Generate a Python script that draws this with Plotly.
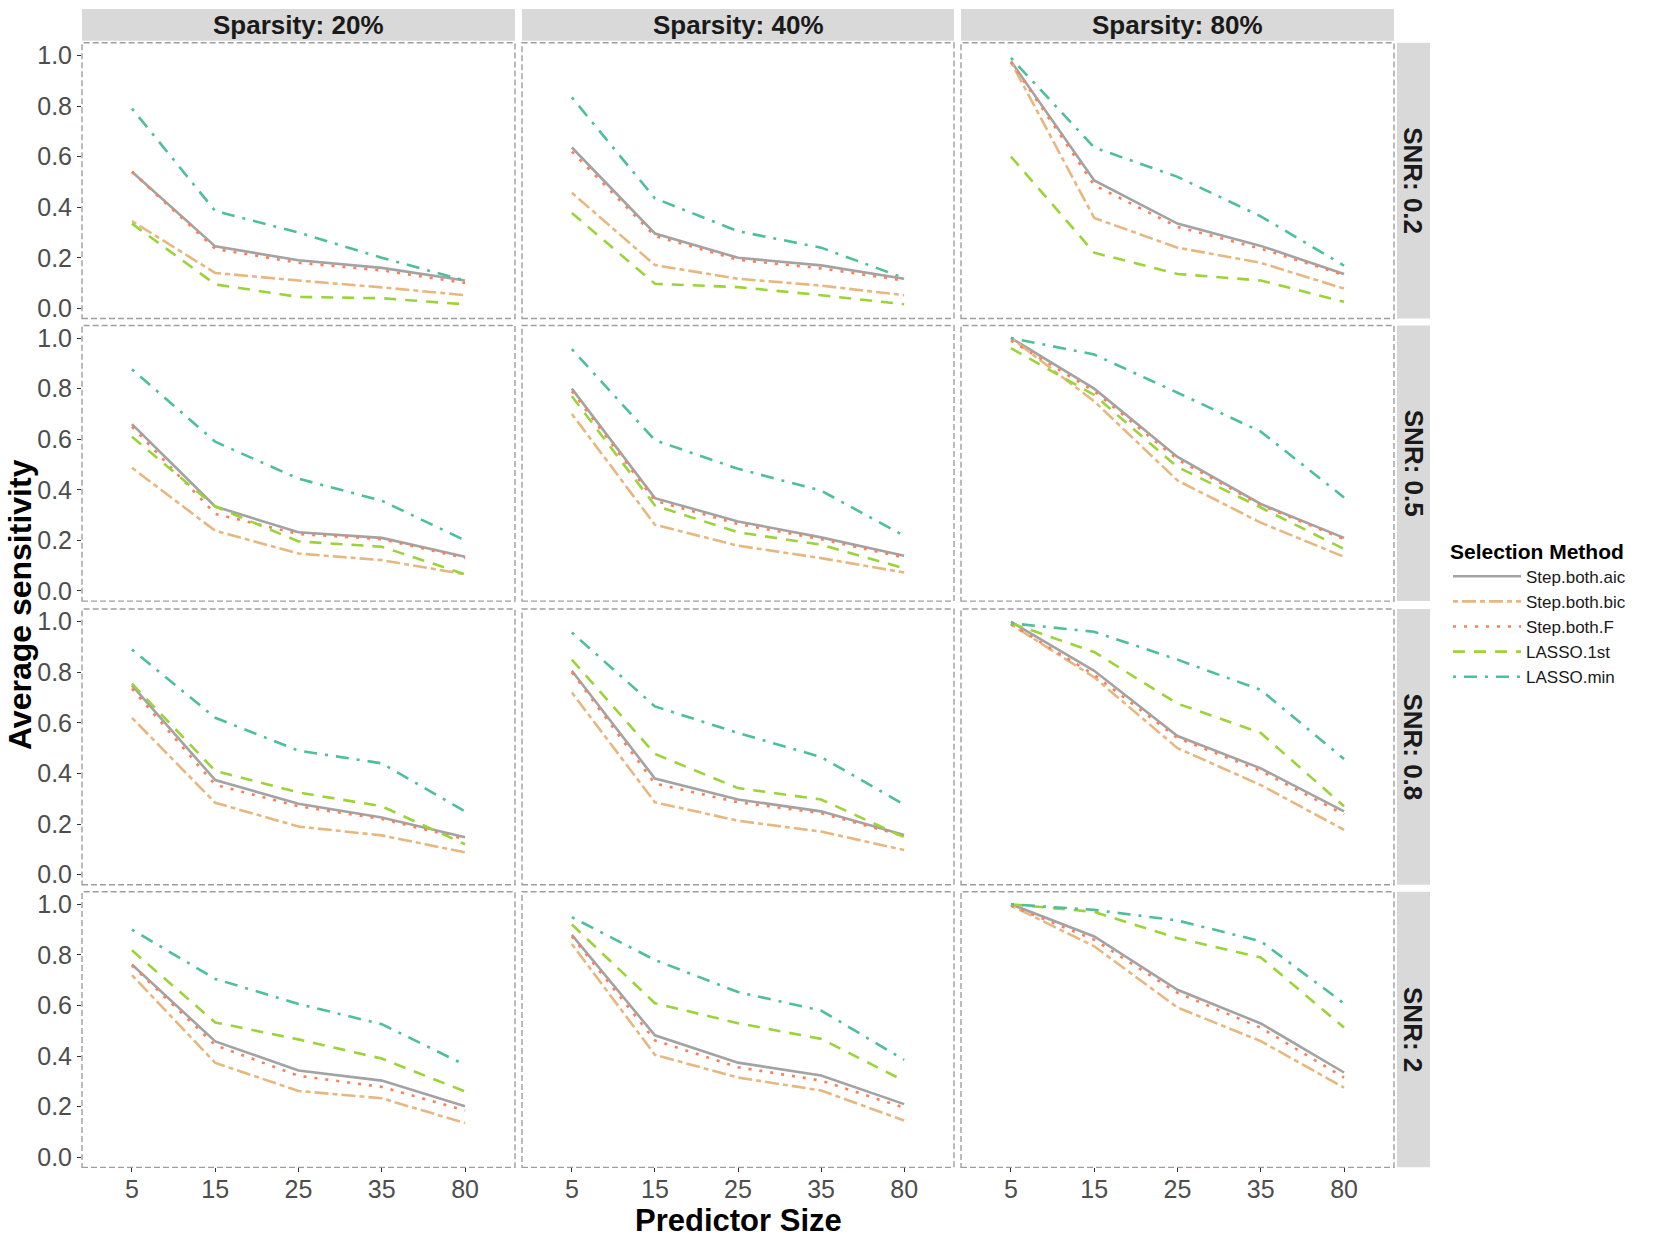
import plotly.graph_objects as go

# categories
sizes = ["5", "15", "25", "35", "80"]
sparsity = ["Sparsity: 20%", "Sparsity: 40%", "Sparsity: 80%"]
snr = ["SNR: 0.2", "SNR: 0.5", "SNR: 0.8", "SNR: 2"]
methods = ["Step.both.aic", "Step.both.bic", "Step.both.F", "LASSO.1st", "LASSO.min"]
y_ticks = [0.0, 0.2, 0.4, 0.6, 0.8, 1.0]
y_ticktext = ["0.0", "0.2", "0.4", "0.6", "0.8", "1.0"]

# average sensitivity, [snr row][sparsity col][predictor size]
step_aic = [
    [[0.54, 0.245, 0.19, 0.16, 0.11], [0.636, 0.296, 0.20, 0.17, 0.117], [0.977, 0.506, 0.335, 0.247, 0.136]],
    [[0.66, 0.334, 0.232, 0.21, 0.135], [0.80, 0.367, 0.275, 0.212, 0.139], [1.0, 0.80, 0.53, 0.344, 0.21]],
    [[0.748, 0.374, 0.28, 0.226, 0.148], [0.806, 0.38, 0.297, 0.25, 0.157], [1.0, 0.806, 0.548, 0.42, 0.25]],
    [[0.762, 0.458, 0.343, 0.303, 0.202], [0.879, 0.482, 0.374, 0.323, 0.21], [1.0, 0.873, 0.662, 0.529, 0.335]],
]
step_bic = [
    [[0.345, 0.14, 0.11, 0.083, 0.052], [0.457, 0.171, 0.117, 0.09, 0.052], [0.974, 0.357, 0.24, 0.18, 0.078]],
    [[0.487, 0.238, 0.148, 0.122, 0.066], [0.70, 0.262, 0.179, 0.13, 0.073], [1.0, 0.75, 0.437, 0.27, 0.135]],
    [[0.62, 0.284, 0.19, 0.155, 0.088], [0.72, 0.286, 0.213, 0.17, 0.097], [0.99, 0.78, 0.50, 0.354, 0.177]],
    [[0.72, 0.373, 0.262, 0.233, 0.135], [0.843, 0.405, 0.315, 0.264, 0.145], [0.995, 0.834, 0.592, 0.459, 0.275]],
]
step_f = [
    [[0.54, 0.235, 0.18, 0.15, 0.10], [0.62, 0.286, 0.192, 0.158, 0.11], [0.974, 0.487, 0.322, 0.236, 0.132]],
    [[0.65, 0.305, 0.225, 0.205, 0.13], [0.79, 0.357, 0.265, 0.205, 0.132], [0.99, 0.79, 0.52, 0.34, 0.205]],
    [[0.735, 0.355, 0.27, 0.22, 0.14], [0.80, 0.36, 0.286, 0.243, 0.152], [0.99, 0.79, 0.54, 0.41, 0.238]],
    [[0.758, 0.443, 0.322, 0.278, 0.185], [0.873, 0.462, 0.356, 0.303, 0.196], [0.995, 0.86, 0.65, 0.512, 0.315]],
]
lasso_1st = [
    [[0.335, 0.095, 0.045, 0.04, 0.016], [0.377, 0.097, 0.084, 0.052, 0.016], [0.60, 0.22, 0.136, 0.11, 0.026]],
    [[0.61, 0.334, 0.196, 0.175, 0.066], [0.77, 0.338, 0.232, 0.183, 0.09], [0.96, 0.775, 0.49, 0.33, 0.166]],
    [[0.755, 0.41, 0.325, 0.27, 0.12], [0.85, 0.477, 0.342, 0.297, 0.148], [0.994, 0.88, 0.676, 0.56, 0.27]],
    [[0.818, 0.533, 0.466, 0.39, 0.26], [0.92, 0.609, 0.53, 0.468, 0.302], [1.0, 0.97, 0.866, 0.79, 0.513]],
]
lasso_min = [
    [[0.79, 0.385, 0.30, 0.20, 0.11], [0.834, 0.435, 0.305, 0.24, 0.12], [0.99, 0.636, 0.52, 0.364, 0.169]],
    [[0.877, 0.59, 0.444, 0.357, 0.20], [0.956, 0.596, 0.483, 0.397, 0.218], [1.0, 0.935, 0.784, 0.63, 0.37]],
    [[0.89, 0.62, 0.49, 0.44, 0.25], [0.957, 0.665, 0.56, 0.465, 0.277], [0.994, 0.96, 0.85, 0.73, 0.457]],
    [[0.90, 0.705, 0.606, 0.526, 0.365], [0.949, 0.78, 0.653, 0.58, 0.385], [1.0, 0.978, 0.936, 0.854, 0.608]],
]

series = [step_aic, step_bic, step_f, lasso_1st, lasso_min]
colours = ["#A3A3A3", "#E6B880", "#FC7F5C", "#9BD339", "#4DBF9A"]
dashes = ["solid", "5px,4px,14px,4px", "3px,8px", "12px,9px", "3px,8px,13px,8px"]

W, H = 1654, 1241
FONT = "Liberation Sans, Arial, sans-serif"

# panel positions in pixels
col_px = [(82, 515), (522, 954), (961, 1394)]
row_px = [(41, 318), (325, 602), (610, 887), (894, 1171)]

fig = go.Figure()
layout = {}
shapes = []
annotations = []

for r in range(4):
    for c in range(3):
        k = r * 3 + c
        sfx = "" if k == 0 else str(k + 1)
        for m, name in enumerate(methods):
            fig.add_trace(go.Scatter(
                x=sizes, y=series[m][r][c], mode="lines", name=name,
                showlegend=(k == 0),
                line=dict(color=colours[m], width=2.6, dash=dashes[m]),
                xaxis="x" + sfx, yaxis="y" + sfx, hoverinfo="skip",
            ))
        x0, x1 = col_px[c]
        y0, y1 = row_px[r]
        bottom = r == 3
        left = c == 0
        layout["xaxis" + sfx] = dict(
            domain=[x0 / W, x1 / W], anchor="y" + sfx, type="category",
            categoryorder="array", categoryarray=sizes, range=[-0.6, 4.6],
            showgrid=False, zeroline=False, showline=False,
            showticklabels=bottom, ticks="outside" if bottom else "",
            ticklen=4, tickwidth=1.2, tickcolor="#333333", ticklabelstandoff=-4,
            tickfont=dict(family=FONT, size=25, color="#4D4D4D"),
        )
        layout["yaxis" + sfx] = dict(
            domain=[1 - y1 / H, 1 - y0 / H], anchor="x" + sfx,
            range=[-0.04, 1.05], tickvals=y_ticks, ticktext=y_ticktext,
            showgrid=False, zeroline=False, showline=False,
            showticklabels=left, ticks="outside" if left else "",
            ticklen=4, tickwidth=1.2, tickcolor="#333333",
            tickfont=dict(family=FONT, size=25, color="#4D4D4D"),
        )
        # dashed panel border
        shapes.append(dict(
            type="rect", xref="x" + sfx + " domain", yref="y" + sfx + " domain",
            x0=0, x1=1, y0=0, y1=1,
            line=dict(color="#9E9E9E", width=1.4, dash="6px,3px"),
        ))

# top strips
for c, label in enumerate(sparsity):
    x0, x1 = col_px[c]
    shapes.append(dict(type="rect", xref="paper", yref="paper",
                       x0=x0 / W, x1=x1 / W, y0=1 - 39 / H, y1=1 - 7 / H,
                       fillcolor="#D9D9D9", line=dict(width=0), layer="below"))
    annotations.append(dict(text=label, xref="paper", yref="paper",
                            x=(x0 + x1) / 2 / W, y=1 - 23 / H, showarrow=False,
                            xanchor="center", yanchor="middle",
                            font=dict(family=FONT, size=26, color="#1A1A1A", weight="bold")))

# right strips
for r, label in enumerate(snr):
    y0, y1 = row_px[r]
    shapes.append(dict(type="rect", xref="paper", yref="paper",
                       x0=1397 / W, x1=1430 / W, y0=1 - y1 / H, y1=1 - y0 / H,
                       fillcolor="#D9D9D9", line=dict(width=0), layer="below"))
    annotations.append(dict(text=label, xref="paper", yref="paper",
                            x=1413.5 / W, y=1 - (y0 + y1) / 2 / H, showarrow=False,
                            xanchor="center", yanchor="middle", textangle=90,
                            font=dict(family=FONT, size=26, color="#1A1A1A", weight="bold")))

# axis titles
annotations.append(dict(text="Average sensitivity", xref="paper", yref="paper",
                        x=20 / W, y=1 - 606 / H, showarrow=False, textangle=-90,
                        xanchor="center", yanchor="middle",
                        font=dict(family=FONT, size=32, color="black", weight="bold")))
annotations.append(dict(text="Predictor Size", xref="paper", yref="paper",
                        x=738 / W, y=1 - 1224 / H, showarrow=False,
                        xanchor="center", yanchor="middle",
                        font=dict(family=FONT, size=31, color="black", weight="bold")))

fig.update_layout(
    **layout,
    shapes=shapes,
    annotations=annotations,
    width=W, height=H,
    margin=dict(l=0, r=0, t=0, b=0),
    paper_bgcolor="white", plot_bgcolor="white",
    font=dict(family=FONT),
    legend=dict(
        x=1448 / W, y=1 - 532 / H, xanchor="left", yanchor="top",
        title=dict(text="Selection Method",
                   font=dict(family=FONT, size=21, color="black", weight="bold")),
        font=dict(family=FONT, size=17, color="#1A1A1A"),
        itemwidth=68, tracegroupgap=0, bgcolor="rgba(0,0,0,0)",
    ),
)

fig.write_html("out.html", config={"displayModeBar": False},
               post_script="document.body.style.margin='0';")
